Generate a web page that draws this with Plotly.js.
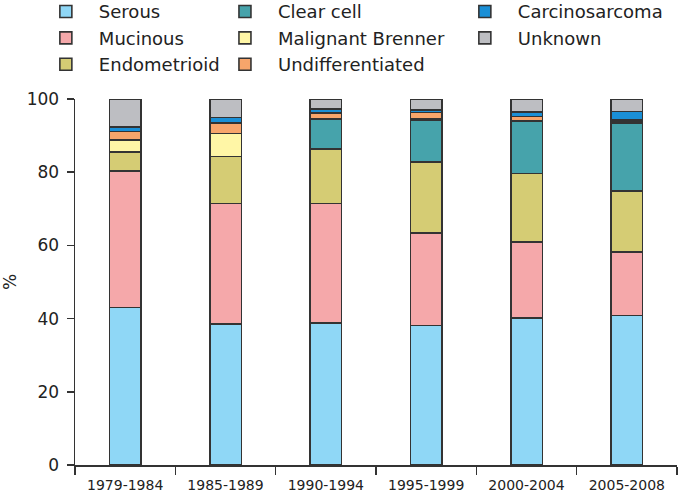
<!DOCTYPE html>
<html>
<head>
<meta charset="utf-8">
<script src="https://cdn.plot.ly/plotly-3.0.1.min.js"></script>
<style>html,body{margin:0;padding:0;background:#fff;}#chart{width:679px;height:495px;}</style>
</head>
<body>
<div id="chart"></div>
<script>
const categories = ['1979-1984', '1985-1989', '1990-1994', '1995-1999', '2000-2004', '2005-2008'];
const seriesNames = ['Serous', 'Mucinous', 'Endometrioid', 'Clear cell', 'Malignant Brenner', 'Undifferentiated', 'Carcinosarcoma', 'Unknown'];
const serous = [43.0, 38.6, 38.8, 38.1, 40.2, 40.8];
const mucinous = [37.4, 32.9, 32.7, 25.3, 20.8, 17.4];
const endometrioid = [5.2, 12.8, 14.9, 19.4, 18.7, 16.7];
const clearCell = [0, 0, 8.1, 11.5, 14.3, 18.5];
const malignantBrenner = [3.2, 6.3, 0, 0.4, 0, 0.3];
const undifferentiated = [2.3, 2.9, 1.6, 1.6, 1.2, 0.6];
const carcinosarcoma = [1.3, 1.5, 1.1, 0.7, 1.2, 2.3];
const unknown = [7.6, 5.0, 2.8, 3.0, 3.6, 3.4];

const seriesValues = [serous, mucinous, endometrioid, clearCell, malignantBrenner, undifferentiated, carcinosarcoma, unknown];
const colors = ['#8fd7f6', '#f5a8aa', '#d5cc74', '#46a3ab', '#fff6a6', '#f7a56b', '#1a8fd6', '#bdbec2'];
const legendIds = ['legend', 'legend', 'legend', 'legend2', 'legend2', 'legend2', 'legend3', 'legend3'];

const FONT = 'DejaVu Sans, Arial, sans-serif';

const traces = seriesNames.map((name, i) => ({
  type: 'bar',
  name: name,
  x: categories,
  y: seriesValues[i],
  width: 0.315,
  legend: legendIds[i],
  marker: { color: colors[i], line: { color: '#333333', width: 1.6 } },
  hoverinfo: 'name+y'
}));

const legendBase = {
  orientation: 'v',
  traceorder: 'normal',
  font: { family: FONT, size: 18, color: '#222' },
  bgcolor: 'rgba(0,0,0,0)',
  borderwidth: 0,
  itemwidth: 56,
  tracegroupgap: 0,
  xanchor: 'left',
  yanchor: 'top',
  y: 1.289
};

const layout = {
  width: 679,
  height: 495,
  margin: { l: 75, r: 2, t: 99, b: 30, autoexpand: false },
  paper_bgcolor: '#fff',
  plot_bgcolor: '#fff',
  barmode: 'stack',
  font: { family: FONT, size: 17, color: '#222' },
  showlegend: true,
  legend: Object.assign({}, legendBase, { x: -0.07 }),
  legend2: Object.assign({}, legendBase, { x: 0.2275 }),
  legend3: Object.assign({}, legendBase, { x: 0.626 }),
  xaxis: {
    type: 'category',
    range: [-0.5, 5.5],
    tickson: 'boundaries',
    ticks: 'outside',
    ticklen: 8,
    tickwidth: 1.5,
    tickcolor: '#333',
    showline: true,
    linecolor: '#333',
    linewidth: 1.5,
    showgrid: false,
    zeroline: false,
    ticklabelstandoff: 7,
    tickfont: { family: FONT, size: 14, color: '#222' }
  },
  yaxis: {
    range: [0, 100],
    dtick: 20,
    tick0: 0,
    ticks: 'outside',
    ticklen: 7,
    tickwidth: 1.5,
    tickcolor: '#333',
    showline: true,
    linecolor: '#333',
    linewidth: 1.5,
    showgrid: false,
    zeroline: false,
    ticklabelstandoff: 4,
    tickfont: { family: FONT, size: 17, color: '#222' },
    title: { text: '%', font: { family: FONT, size: 17, color: '#222' }, standoff: 8 }
  }
};

Plotly.newPlot('chart', traces, layout, { displayModeBar: false, staticPlot: true });
</script>
</body>
</html>
